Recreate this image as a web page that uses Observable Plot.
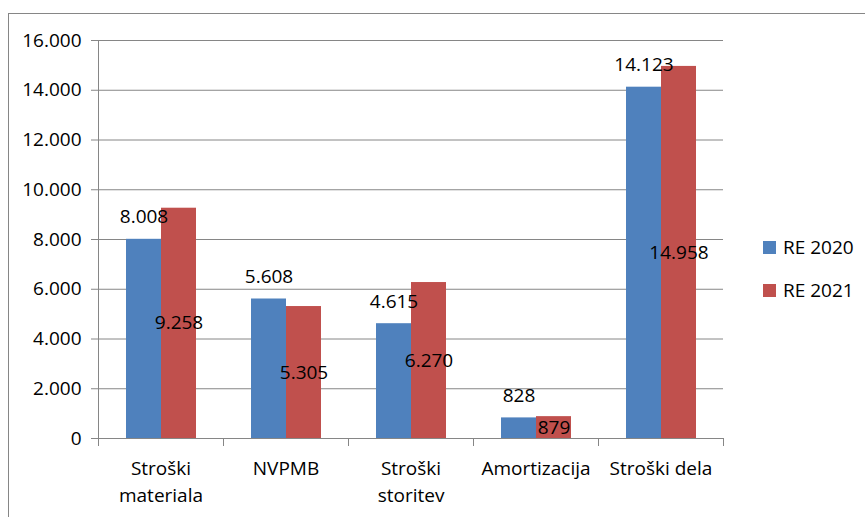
<!DOCTYPE html>
<html><head><meta charset="utf-8">
<script src="https://cdn.jsdelivr.net/npm/d3@7"></script>
<script src="https://cdn.jsdelivr.net/npm/@observablehq/plot@0.6"></script>
<style>
body{margin:0;overflow:hidden;background:#fff;font-family:"Open Sans",sans-serif;}
#wrap{position:relative;width:865px;height:517px;overflow:hidden;background:#fff;}
#frame{position:absolute;left:8px;top:13px;width:900px;height:600px;border:1px solid #868686;}
#chart{position:absolute;left:0;top:0;}
.leg{position:absolute;left:763px;display:flex;align-items:center;font-size:19px;color:#000;height:20px;}
.sw{width:13px;height:13px;margin-right:7px;}
</style></head>
<body>
<div id="wrap"><div id="frame"></div><div id="chart"></div><div id="legend"></div></div>
<script>
const categories = ["Stroški\nmateriala","NVPMB","Stroški\nstoritev","Amortizacija","Stroški dela"];
const series = ["RE 2020","RE 2021"];
const re2020 = [8008,5608,4615,828,14123];
const re2021 = [9258,5305,6270,879,14958];
const yTicks = [0,2000,4000,6000,8000,10000,12000,14000,16000];
const colors = ["#4F81BD","#C0504D"];

const loc = d3.formatLocale({decimal:",", thousands:".", grouping:[3], currency:["",""]});
const fmt = loc.format(",");

const rows = [];
categories.forEach((c,i)=>{
  rows.push({category:c, series:series[0], value:re2020[i]});
  rows.push({category:c, series:series[1], value:re2021[i]});
});
const rows20 = rows.filter(d=>d.series===series[0]);
const rows21 = rows.filter(d=>d.series===series[1]);

const plot = Plot.plot({
  width:865, height:517,
  marginLeft:98, marginRight:142, marginTop:40, marginBottom:79,
  style:{fontFamily:"Open Sans", fontSize:"19px", color:"#000", background:"transparent", overflow:"visible"},
  fx:{domain:categories, padding:0, label:null},
  x:{domain:series, paddingInner:0, paddingOuter:0.76, axis:null},
  y:{domain:[0,16000], axis:null},
  color:{domain:series, range:colors},
  marks:[
    Plot.gridY(yTicks,{stroke:"#868686", strokeOpacity:1, strokeWidth:1}),
    Plot.barY(rows,{fx:"category", x:"series", y:"value", fill:"series"}),
    Plot.ruleY([0],{stroke:"#868686", strokeWidth:1}),
    Plot.text(rows20,{fx:"category", x:"series", y:"value", text:d=>fmt(d.value), dy:-22, fill:"#000", fontSize:19}),
    Plot.text(rows21,{fx:"category", x:"series", y:d=>d.value/2, text:d=>fmt(d.value), fill:"#000", fontSize:19}),
    Plot.axisY(yTicks,{tickSize:7, tickPadding:10, tickFormat:fmt, stroke:"#868686", fill:"#000", fontSize:19, label:null}),
    Plot.axisFx({anchor:"bottom", tickSize:0, tickPadding:18, lineHeight:1.4, fontSize:19, fill:"#000", label:null})
  ]
});
document.getElementById("chart").appendChild(plot);

// axis line and category boundary ticks from the library's scales
const fx = plot.scale("fx"), y = plot.scale("y");
const svg = d3.select(plot);
const y0 = y.apply(0), y1 = y.apply(16000);
const left = fx.range[0];
const g = svg.append("g").attr("stroke","#868686").attr("stroke-width",1);
g.append("line").attr("x1",left+0.5).attr("x2",left+0.5).attr("y1",y1).attr("y2",y0);
const bounds = categories.map(c=>fx.apply(c)).concat([fx.apply(categories[categories.length-1])+fx.bandwidth]);
bounds.forEach(b=>{
  g.append("line").attr("x1",b+0.5).attr("x2",b+0.5).attr("y1",y0).attr("y2",y0+8);
});

const legend = document.getElementById("legend");
series.forEach((s,i)=>{
  const d = document.createElement("div");
  d.className="leg";
  d.style.top = (237 + i*43) + "px";
  d.innerHTML = `<div class="sw" style="background:${colors[i]}"></div><span>${s}</span>`;
  legend.appendChild(d);
});
</script>
</body></html>
